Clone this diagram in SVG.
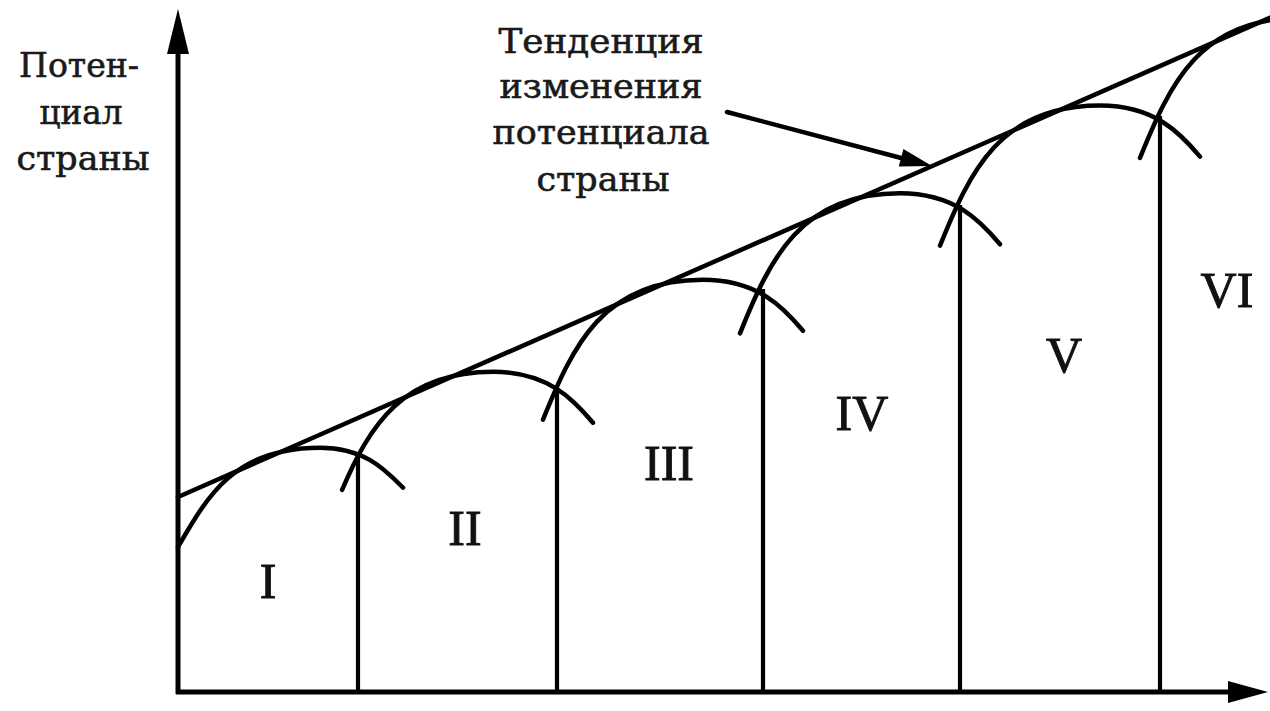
<svg xmlns="http://www.w3.org/2000/svg" width="1270" height="711" viewBox="0 0 1270 711">
<style>
.ln{fill:none;stroke:#000;stroke-width:4.5;stroke-linecap:round}
.ax{fill:none;stroke:#000;stroke-width:5}
.vl{fill:none;stroke:#000;stroke-width:4.2}
.head{fill:#000;stroke:none}
.lbl{font-family:"DejaVu Serif","Liberation Serif",serif;font-size:33px;fill:#1a1a1a;stroke:#1a1a1a;stroke-width:0.6;text-anchor:middle}
.num{font-family:"Liberation Serif","Times New Roman",serif;font-size:50px;fill:#111;stroke:#111;stroke-width:0.9;text-anchor:middle}
</style>
<defs>
<path id="arc" d="M-160,140 C-130,65.8 -100,0 0,0 C55,0 80.7,28 100,51"/>
</defs>
<rect width="1270" height="711" fill="#fff"/>
<g id="axes">
<line class="ax" x1="178" y1="694" x2="178" y2="48"/>
<polygon class="head" points="178,9 167,54 189,54"/>
<line class="ax" x1="176" y1="692" x2="1232" y2="692"/>
<polygon class="head" points="1268,692 1228,681 1228,703"/>
</g>
<g id="connectors">
<line id="trend" class="ln" x1="178" y1="497" x2="1274" y2="16"/>
<g id="verticals">
<line class="vl" x1="358" y1="692" x2="358" y2="453"/>
<line class="vl" x1="557" y1="692" x2="557" y2="388"/>
<line class="vl" x1="763" y1="692" x2="763" y2="289"/>
<line class="vl" x1="960" y1="692" x2="960" y2="205"/>
<line class="vl" x1="1160" y1="692" x2="1160" y2="116"/>
</g>
<g id="arcs">
<path id="arc1" class="ln" d="M178,547 C208,495 235,447.7 320,447.7 C365,447.7 385.3,470 403,487.7"/>
<path id="arc2" class="ln" transform="translate(493,371.8)" d="M-150.9,118.05 C-123.3,53.3 -90,0 0,0 C55,0 80.7,28 100,51"/>
<use id="arc3" class="ln" href="#arc" transform="translate(703,279.7)"/>
<use id="arc4" class="ln" href="#arc" transform="translate(900,193.3)"/>
<use id="arc5" class="ln" href="#arc" transform="translate(1100,105.6)"/>
<use id="arc6" class="ln" href="#arc" transform="translate(1300,17.9)"/>
</g>
<g id="pointer">
<line class="ln" stroke-width="3.5" x1="727" y1="112" x2="905" y2="159"/>
<polygon class="head" points="932,166 898.8,166.5 903.4,149.1"/>
</g>
</g>
<g id="y-label">
<text class="lbl" x="79" y="77" textLength="120" lengthAdjust="spacingAndGlyphs">Потен-</text>
<text class="lbl" x="81" y="124" textLength="83" lengthAdjust="spacingAndGlyphs">циал</text>
<text class="lbl" x="83" y="170" textLength="133" lengthAdjust="spacingAndGlyphs">страны</text>
</g>
<g id="trend-label">
<text class="lbl" x="601" y="53" textLength="205" lengthAdjust="spacingAndGlyphs">Тенденция</text>
<text class="lbl" x="601" y="98" textLength="203" lengthAdjust="spacingAndGlyphs">изменения</text>
<text class="lbl" x="601" y="144" textLength="217" lengthAdjust="spacingAndGlyphs">потенциала</text>
<text class="lbl" x="603" y="191" textLength="133" lengthAdjust="spacingAndGlyphs">страны</text>
</g>
<g id="stage-I"><text class="num" x="268" y="598">I</text></g>
<g id="stage-II"><text class="num" x="465" y="545">II</text></g>
<g id="stage-III"><text class="num" x="669" y="480">III</text></g>
<g id="stage-IV"><text class="num" x="862" y="430">IV</text></g>
<g id="stage-V"><text class="num" x="1064" y="372">V</text></g>
<g id="stage-VI"><text class="num" x="1227" y="307">VI</text></g>
</svg>
